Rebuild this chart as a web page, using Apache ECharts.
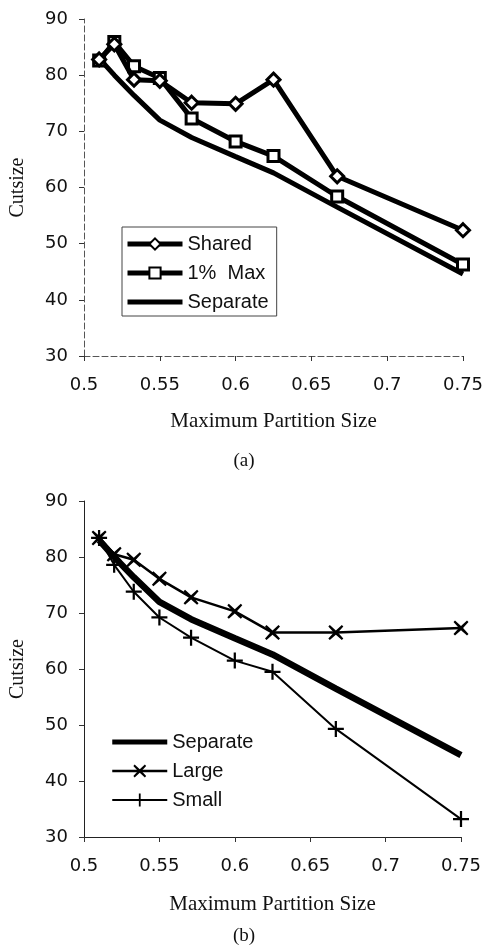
<!DOCTYPE html>
<html>
<head>
<meta charset="utf-8">
<script src="https://cdn.jsdelivr.net/npm/echarts@6/dist/echarts.min.js"></script>
<style>
html,body{margin:0;padding:0;background:#fff;}
#c{width:488px;height:945px;}
</style>
</head>
<body>
<div id="c"></div>
<script>
// ---- data ----
var partitionSizes = [0.51, 0.52, 0.533, 0.55, 0.571, 0.6, 0.625, 0.667, 0.75];
var sharedCut      = [82.8, 85.5, 79.2, 79.0, 75.1, 74.9, 79.2, 62.0, 52.4];
var onePctMaxCut   = [82.6, 85.9, 81.6, 79.5, 72.3, 68.2, 65.6, 58.4, 46.3];
var separateCut    = [83.0, 80.0, 76.4, 72.0, 68.9, 65.5, 62.6, 56.5, 44.6];
var largeCut       = [83.4, 80.5, 79.5, 76.1, 72.8, 70.3, 66.5, 66.5, 67.3];
var smallCut       = [83.4, 78.6, 73.8, 69.2, 65.6, 61.5, 59.5, 49.3, 33.2];
var xTicks = [0.5, 0.55, 0.6, 0.65, 0.7, 0.75];
var yTicks = [30, 40, 50, 60, 70, 80, 90];
var xTitle = 'Maximum Partition Size';
var yTitle = 'Cutsize';
var panelLabels = ['(a)', '(b)'];

function pairs(ys){ return partitionSizes.map(function(x,i){ return [x, ys[i]]; }); }

var SANS = '"Liberation Sans", Arial, sans-serif';
var TICKFONT = '"DejaVu Sans", "Liberation Sans", sans-serif';
var SERIF = '"Liberation Serif", "Times New Roman", serif';
var crossPath = 'path://M1,0L5,3.6L9,0L10,1L6.4,5L10,9L9,10L5,6.4L1,10L0,9L3.6,5L0,1Z';
var plusPath = 'path://M4.3,0H5.7V4.3H10V5.7H5.7V10H4.3V5.7H0V4.3H4.3Z';
var barIcon = 'path://M0,0H55V5H0Z';

function xAxis(gi, dashed, gap){
  return {
    type:'value', gridIndex:gi, min:xTicks[0], max:xTicks[xTicks.length-1], interval:0.05,
    name:xTitle, nameLocation:'middle', nameGap:gap,
    nameTextStyle:{fontFamily:SERIF, fontSize:21, color:'#111'},
    axisLine:{show:true, onZero:false, lineStyle:{color: dashed?'#555':'#222', width:1, type: dashed?[6,3]:'solid'}},
    axisTick:{show:true, length:5, lineStyle:{color:'#333'}},
    axisLabel:{fontFamily:TICKFONT, fontSize:18, color:'#111', margin:20},
    splitLine:{show:false}
  };
}
function yAxis(gi, dashed){
  return {
    type:'value', gridIndex:gi, min:yTicks[0], max:yTicks[yTicks.length-1], interval:10,
    name:yTitle, nameLocation:'middle', nameGap:56, nameRotate:90,
    nameTextStyle:{fontFamily:SERIF, fontSize:20, color:'#111'},
    axisLine:{show:true, onZero:false, lineStyle:{color: dashed?'#555':'#222', width:1, type: dashed?[6,3]:'solid'}},
    axisTick:{show:true, length:5, lineStyle:{color:'#333'}},
    axisLabel:{fontFamily:TICKFONT, fontSize:18, color:'#111', margin:16},
    splitLine:{show:false}
  };
}

var chart = echarts.init(document.getElementById('c'), null, {renderer:'canvas'});
chart.setOption({
  animation:false,
  backgroundColor:'#fff',
  grid:[
    {left:79, top:19, width:384, height:337},
    {left:79, top:501, width:382, height:336}
  ],
  xAxis:[xAxis(0,true,55), xAxis(1,false,57)],
  yAxis:[yAxis(0,true), yAxis(1,false)],
  legend:[
    {
      orient:'vertical', left:122, top:227,
      data:['Shared','1%  Max',{name:'Separate', icon:barIcon}],
      itemWidth:55, itemHeight:14, itemGap:9,
      padding:[7,8,4,3],
      borderColor:'#444', borderWidth:1,
      symbolKeepAspect:true,
      lineStyle:{width:5},
      textStyle:{fontFamily:SANS, fontSize:20, color:'#111'}
    },
    {
      orient:'vertical', left:111, top:732,
      data:[{name:'Separate ', icon:barIcon}, 'Large', 'Small'],
      itemWidth:55, itemHeight:16, itemGap:9,
      padding:[0,0,0,0],
      symbolKeepAspect:true,
      lineStyle:{width:'inherit'},
      textStyle:{fontFamily:SANS, fontSize:20, color:'#111'}
    }
  ],
  series:[
    {
      name:'Shared', type:'line', xAxisIndex:0, yAxisIndex:0, data:pairs(sharedCut),
      symbol:'diamond', symbolSize:13,
      lineStyle:{color:'#000', width:5},
      itemStyle:{color:'#fff', borderColor:'#000', borderWidth:3}, z:4
    },
    {
      name:'1%  Max', type:'line', xAxisIndex:0, yAxisIndex:0, data:pairs(onePctMaxCut),
      symbol:'rect', symbolSize:11,
      lineStyle:{color:'#000', width:5},
      itemStyle:{color:'#fff', borderColor:'#000', borderWidth:3}, z:3
    },
    {
      name:'Separate', type:'line', xAxisIndex:0, yAxisIndex:0, data:pairs(separateCut),
      symbol:'none', showSymbol:false,
      lineStyle:{color:'#000', width:5},
      itemStyle:{color:'#000'}, z:2
    },
    {
      name:'Separate ', type:'line', xAxisIndex:1, yAxisIndex:1, data:pairs(separateCut),
      symbol:'none', showSymbol:false,
      lineStyle:{color:'#000', width:6.5},
      itemStyle:{color:'#000'}, z:2
    },
    {
      name:'Large', type:'line', xAxisIndex:1, yAxisIndex:1, data:pairs(largeCut),
      symbol:crossPath, symbolSize:15,
      lineStyle:{color:'#000', width:2.5},
      itemStyle:{color:'#000'}, z:3
    },
    {
      name:'Small', type:'line', xAxisIndex:1, yAxisIndex:1, data:pairs(smallCut),
      symbol:plusPath, symbolSize:16,
      lineStyle:{color:'#000', width:2},
      itemStyle:{color:'#000'}, z:3
    }
  ],
  graphic:[
    {type:'text', left:'center', top:452, style:{text:panelLabels[0], fontFamily:SERIF, fontSize:19, fill:'#111'}},
    {type:'text', left:'center', top:927, style:{text:panelLabels[1], fontFamily:SERIF, fontSize:19, fill:'#111'}}
  ]
});
</script>
</body>
</html>
